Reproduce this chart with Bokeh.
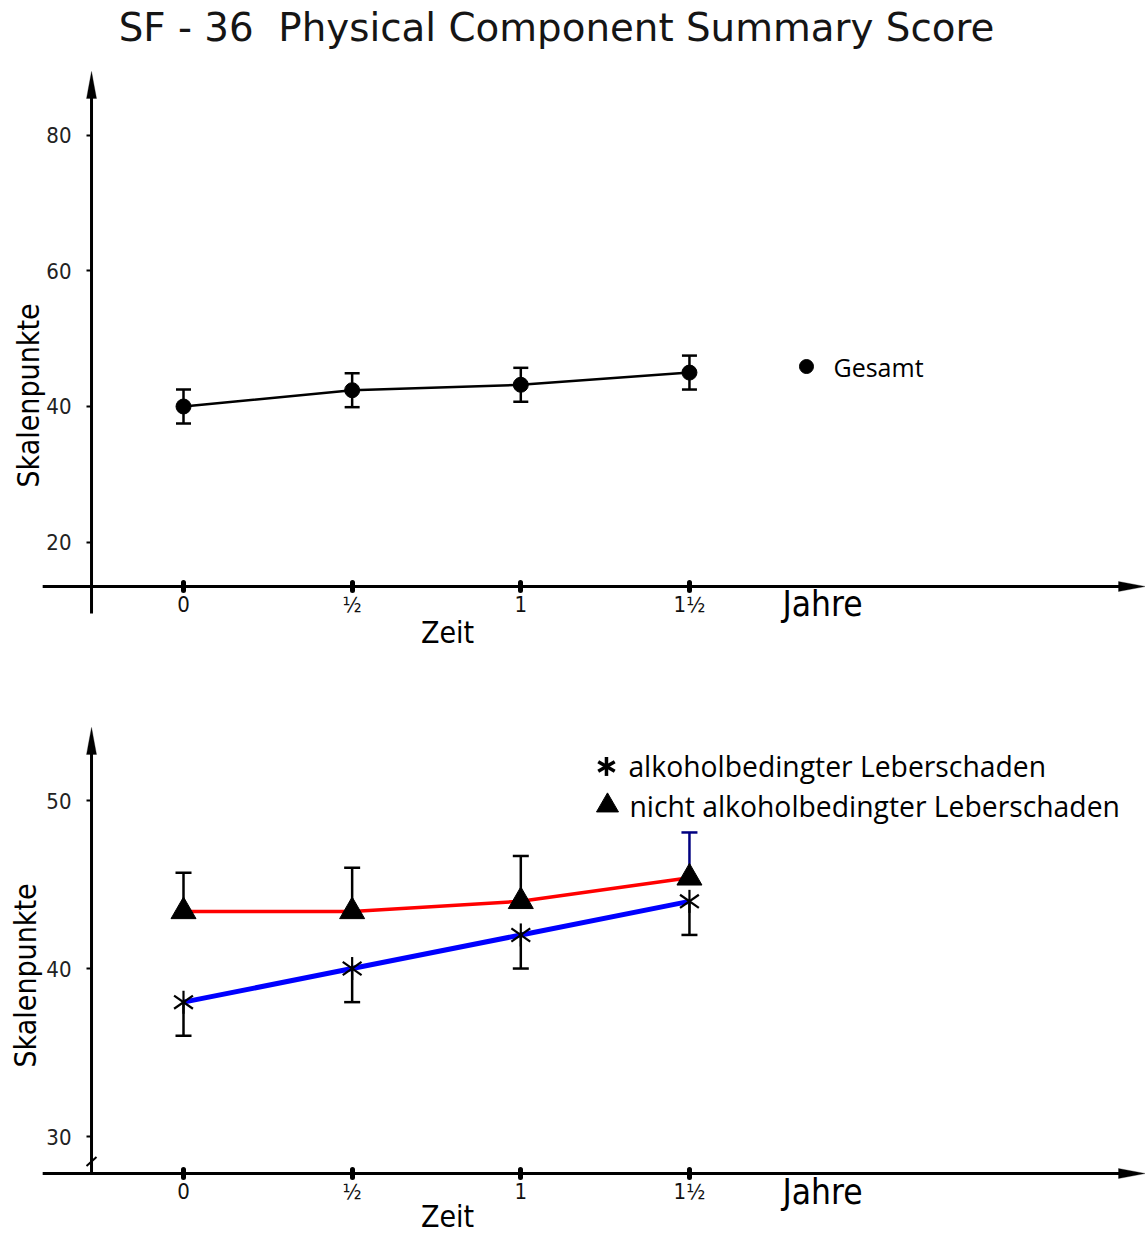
import math

from bokeh.embed import file_html
from bokeh.layouts import column
from bokeh.models import (Arrow, ColumnDataSource, FixedTicker, Label,
                          PolyAnnotation, Range1d, TeeHead, Whisker)
from bokeh.plotting import figure
from bokeh.resources import INLINE

# ---------------------------------------------------------------- data
times = [0.0, 0.5, 1.0, 1.5]
time_labels = ["0", "½", "1", "1½"]

gesamt = [40.0, 42.4, 43.2, 45.0]
gesamt_err = [2.5, 2.5, 2.5, 2.5]

alkohol = [38.0, 40.0, 42.0, 44.0]
alkohol_err = [2.0, 2.0, 2.0, 2.0]

nicht_alkohol = [43.4, 43.4, 44.0, 45.4]
nicht_alkohol_err = [2.3, 2.6, 2.7, 2.7]

top_ticks = [20, 40, 60, 80]
bottom_ticks = [30, 40, 50]

TITLE = "SF - 36\u00a0 Physical Component Summary Score"
Y_LABEL = "Skalenpunkte"
X_LABEL = "Zeit"
UNIT_LABEL = "Jahre"
LEGEND_TOP = "Gesamt"
LEGEND_ALK = "alkoholbedingter Leberschaden"
LEGEND_NICHT = "nicht alkoholbedingter Leberschaden"

# ---------------------------------------------------------------- geometry
W = 1145
PX_X = 337.3                    # pixels per year
X_RANGE = (-183 / PX_X, (W - 183) / PX_X)
Y_AXIS_X = -0.2727              # where the value axis crosses the time axis
X_LEFT_END = -0.4175            # time axis starts a little left of it

NARROW = "DejaVu Sans Condensed, Liberation Sans Narrow, DejaVu Sans"
SANS = "Open Sans"
WIDE = "DejaVu Sans"
AXIS_W = 3


def make_panel(height, y_range, x_axis_y, yticks):
    p = figure(width=W, height=height, output_backend="svg",
               toolbar_location=None,
               x_range=Range1d(*X_RANGE), y_range=Range1d(*y_range),
               min_border_left=0, min_border_right=0,
               min_border_top=0, min_border_bottom=0)
    p.outline_line_color = None
    p.grid.visible = False
    p.background_fill_color = "white"
    p.border_fill_color = "white"

    xa = p.xaxis[0]
    xa.fixed_location = x_axis_y
    xa.ticker = FixedTicker(ticks=times)
    xa.major_label_overrides = dict(zip(times, time_labels))
    xa.axis_line_color = None
    xa.minor_tick_line_color = None
    xa.major_tick_in = 4
    xa.major_tick_out = 4
    xa.major_tick_line_width = 5
    xa.major_tick_line_cap = "round"
    xa.major_tick_line_color = "black"
    xa.major_label_standoff = 1
    xa.major_label_text_font = NARROW
    xa.major_label_text_font_size = "22px"
    xa.major_label_text_color = "#111111"

    ya = p.yaxis[0]
    ya.fixed_location = Y_AXIS_X
    ya.ticker = FixedTicker(ticks=yticks)
    ya.axis_line_color = None
    ya.minor_tick_line_color = None
    ya.major_tick_in = 0
    ya.major_tick_out = 5
    ya.major_tick_line_width = 2
    ya.major_tick_line_color = "black"
    ya.major_label_standoff = 15
    ya.major_label_text_font = NARROW
    ya.major_label_text_font_size = "22px"
    ya.major_label_text_color = "#222222"
    return p


def draw_axis_lines(p, x_axis_y, y_low, y_tip, px_y):
    x_tip = X_RANGE[1]
    head_len_x, head_half_y = 27 / PX_X, 5 / px_y
    head_len_y, head_half_x = 27 / px_y, 5 / PX_X
    # time axis with arrow head
    p.add_layout(Arrow(end=None, x_start=X_LEFT_END, y_start=x_axis_y,
                       x_end=x_tip - head_len_x * 0.5, y_end=x_axis_y,
                       line_width=AXIS_W, line_color="black"))
    p.add_layout(PolyAnnotation(
        xs=[x_tip, x_tip - head_len_x, x_tip - head_len_x],
        ys=[x_axis_y, x_axis_y + head_half_y, x_axis_y - head_half_y],
        fill_color="black", fill_alpha=1.0, line_color="black",
        line_width=1, level="overlay"))
    # value axis with arrow head
    p.add_layout(Arrow(end=None, x_start=Y_AXIS_X, y_start=y_low,
                       x_end=Y_AXIS_X, y_end=y_tip - head_len_y * 0.5,
                       line_width=AXIS_W, line_color="black"))
    p.add_layout(PolyAnnotation(
        xs=[Y_AXIS_X, Y_AXIS_X - head_half_x, Y_AXIS_X + head_half_x],
        ys=[y_tip, y_tip - head_len_y, y_tip - head_len_y],
        fill_color="black", fill_alpha=1.0, line_color="black",
        line_width=1, level="overlay"))


def text(p, x, y, s, font, size, align="left", angle=0.0, color="black"):
    p.add_layout(Label(x=x, y=y, text=s, text_font=font,
                       text_font_size=size, text_align=align,
                       text_baseline="middle", angle=angle,
                       text_color=color))


def six_arm_star(p, xs, ys, size, width, tilt):
    # vertical stroke plus two strokes tilted by +/- tilt from horizontal
    for ang in (math.pi / 2, tilt, -tilt):
        p.scatter(xs, ys, marker="dash", size=size, angle=ang,
                  line_width=width, line_color="black")


# ================================================================ top panel
TOP_H = 650
top_px_y = 6.785
top_axis_y = 13.47                       # time axis, 586 px from the top
top_range = (top_axis_y - (TOP_H - 586) / top_px_y,
             top_axis_y + 586 / top_px_y)
p1 = make_panel(TOP_H, top_range, top_axis_y, top_ticks)
draw_axis_lines(p1, top_axis_y, 9.49, 89.37, top_px_y)

src_g = ColumnDataSource(dict(
    x=times,
    upper=[v + e for v, e in zip(gesamt, gesamt_err)],
    lower=[v - e for v, e in zip(gesamt, gesamt_err)]))
p1.add_layout(Whisker(source=src_g, base="x", upper="upper", lower="lower",
                      line_width=2.5, line_color="black",
                      upper_head=TeeHead(size=15, line_width=2.5, line_color="black"),
                      lower_head=TeeHead(size=15, line_width=2.5, line_color="black")))
p1.line(times, gesamt, line_width=2.5, line_color="black")
p1.scatter(times, gesamt, marker="circle", size=15, color="black")

# legend
p1.scatter([1.847], [45.89], marker="circle", size=14, color="black")
text(p1, 1.927, 45.89, LEGEND_TOP, SANS, "25px")

# title and axis captions
text(p1, 1.106, 95.86, TITLE, WIDE, "38.8px", align="center", color="#151515")
text(p1, -0.4595, 41.62, Y_LABEL, NARROW, "30px", align="center",
     angle=math.pi / 2)
text(p1, 1.776, 10.82, UNIT_LABEL, NARROW, "35px")
text(p1, 0.783, 6.69, X_LABEL, NARROW, "30px", align="center")

# ============================================================= bottom panel
BOT_H = 584
bot_px_y = 16.8
bot_axis_y = 27.8                        # time axis, 523 px from the top
bot_range = (bot_axis_y - (BOT_H - 523) / bot_px_y,
             bot_axis_y + 523 / bot_px_y)
p2 = make_panel(BOT_H, bot_range, bot_axis_y, bottom_ticks)
draw_axis_lines(p2, bot_axis_y, bot_axis_y, 54.35, bot_px_y)

# axis break mark on the value axis
p2.add_layout(Arrow(end=None, x_start=Y_AXIS_X - 5 / PX_X,
                    y_start=28.51 - 4.5 / bot_px_y,
                    x_end=Y_AXIS_X + 5 / PX_X, y_end=28.51 + 4.5 / bot_px_y,
                    line_width=2, line_color="black"))

# one-sided error bars
src_alk = ColumnDataSource(dict(
    x=times, upper=alkohol,
    lower=[v - e for v, e in zip(alkohol, alkohol_err)]))
p2.add_layout(Whisker(source=src_alk, base="x", upper="upper", lower="lower",
                      line_width=2.5, line_color="black", upper_head=None,
                      lower_head=TeeHead(size=16, line_width=2.5, line_color="black")))

src_na = ColumnDataSource(dict(
    x=times[:-1], lower=nicht_alkohol[:-1],
    upper=[v + e for v, e in zip(nicht_alkohol[:-1], nicht_alkohol_err[:-1])]))
p2.add_layout(Whisker(source=src_na, base="x", upper="upper", lower="lower",
                      line_width=2.5, line_color="black", lower_head=None,
                      upper_head=TeeHead(size=16, line_width=2.5, line_color="black")))
src_na_last = ColumnDataSource(dict(
    x=times[-1:], lower=nicht_alkohol[-1:],
    upper=[nicht_alkohol[-1] + nicht_alkohol_err[-1]]))
p2.add_layout(Whisker(source=src_na_last, base="x", upper="upper", lower="lower",
                      line_width=2.5, line_color="#000080", lower_head=None,
                      upper_head=TeeHead(size=16, line_width=2.5, line_color="#000080")))

p2.line(times, nicht_alkohol, line_width=3.5, line_color="red")
p2.line(times, alkohol, line_width=5, line_color="blue")
p2.scatter(times, nicht_alkohol, marker="triangle", size=25, color="black")
six_arm_star(p2, times, alkohol, 23, 2.2, math.radians(35))

# legend
six_arm_star(p2, [1.254], [52.03], 19, 3.5, math.pi / 6)
text(p2, 1.319, 52.03, LEGEND_ALK, SANS, "28.3px")
p2.scatter([1.257], [49.7], marker="triangle", size=22, color="black")
text(p2, 1.322, 49.7, LEGEND_NICHT, SANS, "28.3px")

text(p2, -0.468, 39.59, Y_LABEL, NARROW, "30px", align="center",
     angle=math.pi / 2)
text(p2, 1.776, 26.67, UNIT_LABEL, NARROW, "35px")
text(p2, 0.783, 25.24, X_LABEL, NARROW, "30px", align="center")

layout = column(p1, p2, spacing=0)
open("out.html", "w").write(file_html(layout, INLINE))
